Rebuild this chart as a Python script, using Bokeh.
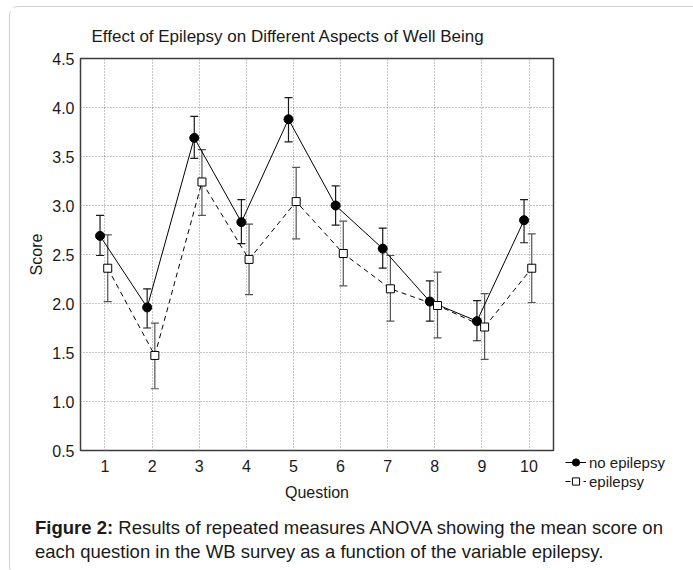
from bokeh.plotting import figure
from bokeh.layouts import column
from bokeh.models import (ColumnDataSource, Whisker, TeeHead, Legend, LegendItem, Div,
                          Range1d, FixedTicker, NumeralTickFormatter)
from bokeh.embed import file_html
from bokeh.resources import INLINE

# ---------------- data ----------------
questions = [1, 2, 3, 4, 5, 6, 7, 8, 9, 10]
no_epilepsy = [2.69, 1.96, 3.69, 2.83, 3.88, 3.00, 2.56, 2.02, 1.82, 2.85]
no_epilepsy_upper = [2.90, 2.15, 3.91, 3.06, 4.10, 3.20, 2.77, 2.23, 2.03, 3.06]
no_epilepsy_lower = [2.49, 1.75, 3.48, 2.61, 3.65, 2.80, 2.36, 1.82, 1.62, 2.62]
epilepsy = [2.36, 1.47, 3.24, 2.45, 3.04, 2.51, 2.15, 1.98, 1.76, 2.36]
epilepsy_upper = [2.70, 1.80, 3.57, 2.81, 3.39, 2.84, 2.49, 2.32, 2.10, 2.71]
epilepsy_lower = [2.02, 1.13, 2.90, 2.09, 2.66, 2.18, 1.82, 1.65, 1.43, 2.01]
y_ticks = [0.5, 1.0, 1.5, 2.0, 2.5, 3.0, 3.5, 4.0, 4.5]
series_names = ["no epilepsy", "epilepsy"]
title_text = "Effect of Epilepsy on Different Aspects of Well Being"
x_label = "Question"
y_label = "Score"
caption_bold = "Figure 2:"
caption_text = ("Results of repeated measures ANOVA showing the mean score on "
                "each question in the WB survey as a function of the variable epilepsy.")

# ---------------- layout ----------------
FONT = "Liberation Sans"
TXT = "#1a1a1a"
W = 672
FH_TOTAL = 497
FL, FT, FW, FH = 70, 51, 473, 392
OFF_A, OFF_B = -0.105, 0.058

p = figure(frame_width=FW, frame_height=FH, output_backend="svg", toolbar_location=None,
           x_range=Range1d(0.48, 10.52), y_range=Range1d(0.5, 4.5),
           min_border_left=FL, min_border_right=W - FL - FW,
           min_border_top=FT, min_border_bottom=FH_TOTAL - FT - FH)
p.outline_line_color = "#3c3c3c"
p.outline_line_width = 1.5
p.background_fill_color = "white"
p.border_fill_color = "white"

p.title.text = title_text
p.title.text_font = FONT
p.title.text_font_size = "17px"
p.title.text_font_style = "normal"
p.title.text_color = TXT
p.title.align = "left"
p.title.offset = 11
p.title.standoff = 25

p.xaxis.ticker = FixedTicker(ticks=questions)
p.yaxis.ticker = FixedTicker(ticks=y_ticks)
p.yaxis.formatter = NumeralTickFormatter(format="0.0")
for ax in (p.xaxis, p.yaxis):
    ax.axis_line_color = None
    ax.major_tick_line_color = None
    ax.minor_tick_line_color = None
    ax.major_tick_out = 0
    ax.major_tick_in = 0
    ax.minor_tick_out = 0
    ax.minor_tick_in = 0
    ax.major_label_text_font = FONT
    ax.major_label_text_font_size = "16px"
    ax.major_label_text_color = TXT
    ax.axis_label_text_font = FONT
    ax.axis_label_text_font_size = "16px"
    ax.axis_label_text_font_style = "normal"
    ax.axis_label_text_color = TXT
p.xaxis.major_label_standoff = 9
p.yaxis.major_label_standoff = 6
p.xaxis.axis_label = x_label
p.yaxis.axis_label = y_label
p.xaxis.axis_label_standoff = 9
p.yaxis.axis_label_standoff = 4

p.grid.grid_line_color = "#8c8c8c"
p.grid.grid_line_dash = "1 2"
p.grid.grid_line_width = 1

xa = [q + OFF_A for q in questions]
xb = [q + OFF_B for q in questions]
src_a = ColumnDataSource(dict(x=xa, y=no_epilepsy, upper=no_epilepsy_upper, lower=no_epilepsy_lower))
src_b = ColumnDataSource(dict(x=xb, y=epilepsy, upper=epilepsy_upper, lower=epilepsy_lower))

wa = Whisker(base="x", upper="upper", lower="lower", source=src_a, dimension="height",
             line_color="#1a1a1a", line_width=1.2, level="underlay",
             upper_head=TeeHead(size=8, line_color="#1a1a1a", line_width=1.2),
             lower_head=TeeHead(size=8, line_color="#1a1a1a", line_width=1.2))
wb = Whisker(base="x", upper="upper", lower="lower", source=src_b, dimension="height",
             line_color="#555555", line_width=1.2, level="underlay",
             upper_head=TeeHead(size=8, line_color="#555555", line_width=1.2),
             lower_head=TeeHead(size=8, line_color="#555555", line_width=1.2))
p.add_layout(wa)
p.add_layout(wb)

la = p.line("x", "y", source=src_a, line_color="black", line_width=1)
sa = p.scatter("x", "y", source=src_a, marker="circle", size=9,
               fill_color="black", line_color="black")
lb = p.line("x", "y", source=src_b, line_color="black", line_width=1, line_dash="5 4")
sb = p.scatter("x", "y", source=src_b, marker="square", size=8,
               fill_color="white", line_color="black", line_width=1)

legend = Legend(items=[LegendItem(label=series_names[0], renderers=[la, sa]),
                       LegendItem(label=series_names[1], renderers=[lb, sb])],
                location=(12, -40), orientation="vertical",
                padding=0, margin=0, spacing=1,
                glyph_width=21, glyph_height=18, label_height=18,
                label_standoff=3, border_line_color=None,
                background_fill_alpha=0,
                label_text_font=FONT, label_text_font_size="15px",
                label_text_color=TXT)
p.add_layout(legend, "right")

caption = Div(text=f"<b>{caption_bold}</b> {caption_text}", width=W, height=61,
              styles={"font-family": FONT, "font-size": "18.5px", "line-height": "24px",
                      "color": TXT, "padding": "7px 14px 0 20px", "box-sizing": "border-box"})

layout = column(p, caption, styles={"border": "1px solid #cfcfcf", "border-radius": "9px",
                                    "background-color": "white",
                                    "margin": "6px 0 0 9px"})

open("out.html", "w").write(file_html(layout, INLINE))
